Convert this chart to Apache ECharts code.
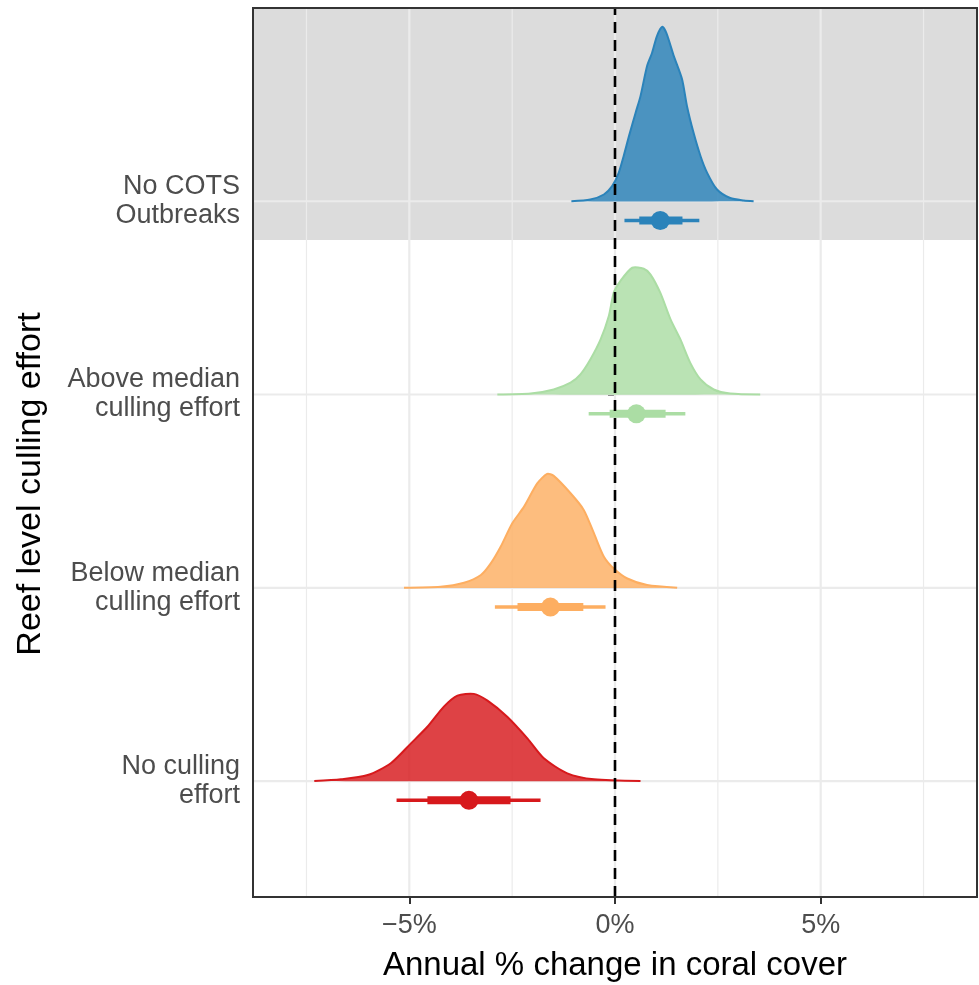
<!DOCTYPE html>
<html>
<head>
<meta charset="utf-8">
<script src="https://cdn.jsdelivr.net/npm/echarts@6/dist/echarts.min.js"></script>
<style>
html,body{margin:0;padding:0;background:#fff;}
#chart{width:979px;height:985px;}
</style>
</head>
<body>
<div id="chart"></div>
<script>
// ---- data ----
const categories = ['No culling\neffort', 'Below median\nculling effort', 'Above median\nculling effort', 'No COTS\nOutbreaks'];
const categoryPositions = [1, 2, 3, 4];
const groupColors = ['#d7191c', '#fdae61', '#abdda4', '#2b83ba'];
const xTicks = [-5, 0, 5];
const xMinorGrid = [-7.5, -2.5, 2.5, 7.5];
const highlightBand = [3.8, 5.0];
const referenceLine = [0];

// density shapes: [x (% change), height above baseline (in category units)]
const densityNoCulling = [[-7.31,0],[-6.66,0.009],[-6.01,0.031],[-5.45,0.092],[-4.96,0.195],[-4.56,0.281],[-4.16,0.385],[-3.83,0.442],[-3.43,0.451],[-3.10,0.416],[-2.62,0.333],[-2.13,0.221],[-1.73,0.118],[-1.16,0.040],[-0.51,0.009],[0.62,0]];
const densityBelowMedian = [[-5.13,0],[-4.24,0.005],[-3.67,0.026],[-3.26,0.066],[-3.02,0.126],[-2.78,0.212],[-2.50,0.333],[-2.21,0.420],[-1.89,0.540],[-1.65,0.589],[-1.49,0.579],[-1.08,0.489],[-0.76,0.403],[-0.51,0.281],[-0.27,0.161],[-0.03,0.100],[0.30,0.048],[0.78,0.014],[1.51,0]];
const densityAboveMedian = [[-2.86,0],[-2.05,0.005],[-1.49,0.026],[-1.08,0.061],[-0.84,0.104],[-0.60,0.181],[-0.35,0.285],[-0.15,0.406],[-0.03,0.527],[0.13,0.587],[0.42,0.656],[0.70,0.651],[0.86,0.622],[1.10,0.527],[1.35,0.389],[1.59,0.285],[1.83,0.164],[2.08,0.078],[2.40,0.026],[2.80,0.005],[3.53,0]];
const densityNoCOTS = [[-1.06,0],[-0.60,0.009],[-0.27,0.035],[-0.07,0.078],[0.09,0.147],[0.21,0.233],[0.34,0.337],[0.50,0.457],[0.62,0.544],[0.78,0.700],[0.90,0.767],[1.02,0.855],[1.15,0.903],[1.25,0.870],[1.43,0.751],[1.63,0.631],[1.75,0.492],[1.91,0.354],[2.08,0.233],[2.24,0.147],[2.48,0.061],[2.80,0.017],[3.13,0.004],[3.37,0]];
const densities = [densityNoCulling, densityBelowMedian, densityAboveMedian, densityNoCOTS];

// point intervals: [lo95, lo66, median, hi66, hi95]
const intervalNoCulling = [-5.31, -4.56, -3.55, -2.54, -1.81];
const intervalBelowMedian = [-2.92, -2.37, -1.57, -0.77, -0.23];
const intervalAboveMedian = [-0.64, -0.13, 0.52, 1.23, 1.71];
const intervalNoCOTS = [0.23, 0.59, 1.10, 1.64, 2.05];
const intervals = [intervalNoCulling, intervalBelowMedian, intervalAboveMedian, intervalNoCOTS];

const X_MIN = -8.8, X_MAX = 8.8, Y_MIN = 0.4, Y_MAX = 5.0;
const INTERVAL_OFFSET = 0.1;
const FONT = "'Liberation Sans', Arial, Helvetica, sans-serif";

function hexA(hex, a) {
  const n = parseInt(hex.slice(1), 16);
  return 'rgba(' + (n >> 16) + ',' + ((n >> 8) & 255) + ',' + (n & 255) + ',' + a + ')';
}

const chart = echarts.init(document.getElementById('chart'), null, {renderer: 'canvas'});

const option = {
  animation: false,
  backgroundColor: '#ffffff',
  grid: {left: 253, right: 2, top: 8, bottom: 88, outerBoundsMode: 'none', containLabel: false, show: true, borderColor: '#333333', borderWidth: 2, backgroundColor: 'transparent', z: 10},
  xAxis: {
    type: 'value', min: X_MIN, max: X_MAX,
    axisLine: {show: false},
    splitLine: {show: false},
    axisTick: {show: true, customValues: xTicks, length: 7, lineStyle: {color: '#333333', width: 2}},
    axisLabel: {
      customValues: xTicks, margin: 15, color: '#4d4d4d', fontSize: 27, fontFamily: FONT,
      formatter: v => (v < 0 ? '\u2212' + Math.abs(v) : String(v)) + '%'
    },
    name: 'Annual % change in coral cover', nameLocation: 'middle', nameGap: 52,
    nameTextStyle: {color: '#000', fontSize: 33, fontFamily: FONT}
  },
  yAxis: {
    type: 'value', min: Y_MIN, max: Y_MAX,
    axisLine: {show: false},
    splitLine: {show: false},
    axisTick: {show: true, customValues: categoryPositions, length: 7, lineStyle: {color: '#333333', width: 2}},
    axisLabel: {
      customValues: categoryPositions, margin: 13, color: '#4d4d4d', fontSize: 27, lineHeight: 29, fontFamily: FONT, align: 'right',
      formatter: v => categories[categoryPositions.indexOf(Math.round(v))] || ''
    }
  },
  graphic: [{
    type: 'text', x: 31, y: 484, rotation: Math.PI / 2, z: 100,
    style: {text: 'Reef level culling effort', fill: '#000', font: '34px ' + FONT, align: 'center', verticalAlign: 'middle'}
  }],
  series: [
    // highlight band
    {
      type: 'custom', z: 1, silent: true, clip: true,
      data: [highlightBand],
      renderItem: (params, api) => {
        const p1 = api.coord([X_MIN, api.value(1)]);
        const p2 = api.coord([X_MAX, api.value(0)]);
        return {type: 'rect', shape: {x: p1[0], y: p1[1], width: p2[0] - p1[0], height: p2[1] - p1[1]}, style: {fill: '#dcdcdc'}};
      }
    },
    // grid lines
    {
      type: 'custom', z: 2, silent: true, clip: true,
      data: [0],
      renderItem: (params, api) => {
        const children = [];
        xMinorGrid.forEach(x => {
          const a = api.coord([x, Y_MIN]), b = api.coord([x, Y_MAX]);
          children.push({type: 'line', shape: {x1: a[0], y1: a[1], x2: b[0], y2: b[1]}, style: {stroke: '#ebebeb', lineWidth: 1.2}});
        });
        xTicks.forEach(x => {
          const a = api.coord([x, Y_MIN]), b = api.coord([x, Y_MAX]);
          children.push({type: 'line', shape: {x1: a[0], y1: a[1], x2: b[0], y2: b[1]}, style: {stroke: '#ebebeb', lineWidth: 2.2}});
        });
        categoryPositions.forEach(y => {
          const a = api.coord([X_MIN, y]), b = api.coord([X_MAX, y]);
          children.push({type: 'line', shape: {x1: a[0], y1: a[1], x2: b[0], y2: b[1]}, style: {stroke: '#ebebeb', lineWidth: 2.2}});
        });
        return {type: 'group', children};
      }
    },
    // densities
    {
      type: 'custom', z: 3, silent: true, clip: true,
      data: categoryPositions.map((p, i) => [i, p]),
      renderItem: (params, api) => {
        const i = api.value(0), base = api.value(1);
        const pts = densities[i].map(d => api.coord([d[0], base + d[1]]));
        return {
          type: 'group', children: [
            {type: 'polygon', shape: {points: pts, smooth: 0.25}, style: {fill: hexA(groupColors[i], 0.82), stroke: null}},
            {type: 'polyline', shape: {points: pts, smooth: 0.25}, style: {stroke: groupColors[i], lineWidth: 2, fill: null}}
          ]
        };
      }
    },
    // point intervals
    {
      type: 'custom', z: 4, silent: true, clip: true,
      data: categoryPositions.map((p, i) => [i, p]),
      renderItem: (params, api) => {
        const i = api.value(0), y = api.value(1) - INTERVAL_OFFSET;
        const iv = intervals[i], c = groupColors[i];
        const a95 = api.coord([iv[0], y]), b95 = api.coord([iv[4], y]);
        const a66 = api.coord([iv[1], y]), b66 = api.coord([iv[3], y]);
        const m = api.coord([iv[2], y]);
        return {
          type: 'group', children: [
            {type: 'line', shape: {x1: a95[0], y1: a95[1], x2: b95[0], y2: b95[1]}, style: {stroke: c, lineWidth: 3.5}},
            {type: 'line', shape: {x1: a66[0], y1: a66[1], x2: b66[0], y2: b66[1]}, style: {stroke: c, lineWidth: 8}},
            {type: 'circle', shape: {cx: m[0], cy: m[1], r: 9.5}, style: {fill: c}}
          ]
        };
      }
    },
    // dashed reference line
    {
      type: 'custom', z: 5, silent: true, clip: true,
      data: referenceLine.map(v => [v]),
      renderItem: (params, api) => {
        const a = api.coord([api.value(0), Y_MIN]), b = api.coord([api.value(0), Y_MAX]);
        return {type: 'line', shape: {x1: a[0], y1: a[1], x2: b[0], y2: b[1]}, style: {stroke: '#000', lineWidth: 2.6, lineDash: [11, 7]}};
      }
    }
  ]
};
chart.setOption(option);
</script>
</body>
</html>
